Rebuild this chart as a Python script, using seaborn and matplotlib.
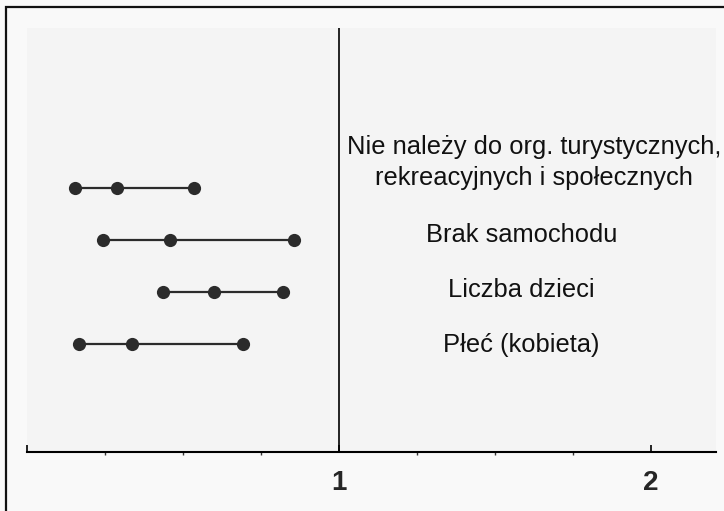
import numpy as np
import pandas as pd
import matplotlib
matplotlib.use('Agg')
import matplotlib.pyplot as plt
from matplotlib.patches import Rectangle
from matplotlib.ticker import MultipleLocator, FixedLocator
import seaborn as sns

# ===============================
# DATA (odds ratio: lower CI, estimate, upper CI)
# ===============================
labels = [
    'Nie należy do org. turystycznych,\nrekreacyjnych i społecznych',
    'Brak samochodu',
    'Liczba dzieci',
    'Płeć (kobieta)',
]
ci_low = [0.154, 0.243, 0.436, 0.167]
estimate = [0.289, 0.459, 0.600, 0.336]
ci_high = [0.535, 0.857, 0.822, 0.692]
major_ticks = [0, 1, 2]
tick_labels = ['', '1', '2']

rows = list(range(len(labels)))
df = pd.DataFrame({
    'row': rows * 3,
    'label': labels * 3,
    'value': ci_low + estimate + ci_high,
})

sns.set_style('white')
plt.rcParams['font.family'] = ['Liberation Sans', 'DejaVu Sans']

fig = plt.figure(figsize=(7.24, 5.11), dpi=100, facecolor='#f9f9f9')
ax = fig.add_axes([27 / 724, 59 / 511, 689 / 724, 424 / 511])
ax.set_facecolor('#f4f4f4')

sns.lineplot(
    data=df, x='value', y='row', units='label', estimator=None,
    color='#2b2b2b', linewidth=1.6, marker='o', markersize=9.5,
    markeredgewidth=0, ax=ax, legend=False
)

ax.axvline(1, color='black', linewidth=1.2, zorder=1)

# labels to the right of the reference line
for i, lab in enumerate(labels):
    xpos = 1.626 if '\n' in lab else 1.586
    yoff = [-0.06, 1.04, 2.10, 3.15][i]
    ax.text(xpos, yoff, lab, ha='center', va='baseline',
            fontsize=18.4, color='#111111', linespacing=1.38)

ax.set_xlim(0, 2.21)
ax.set_ylim(5.08, -3.08)
ax.set_xlabel('')
ax.set_ylabel('')
ax.set_yticks([])

ax.xaxis.set_major_locator(FixedLocator(major_ticks))
ax.set_xticklabels(tick_labels, fontsize=20, fontweight='bold')
ax.xaxis.set_minor_locator(MultipleLocator(0.25))
ax.tick_params(axis='x', which='major', direction='in', length=5,
               width=1.2, color='black', pad=13, bottom=True)
ax.tick_params(axis='x', which='minor', direction='out', length=2.5,
               width=1.0, color='#333333', bottom=True)

for side in ['top', 'right', 'left']:
    ax.spines[side].set_visible(False)
ax.spines['bottom'].set_color('black')
ax.spines['bottom'].set_linewidth(1.5)

# outer frame (only left and top edges fall inside the image)
fig.patches.append(Rectangle(
    (6 / 724, -20 / 511), 1.1, (511 - 7 + 20) / 511,
    transform=fig.transFigure, fill=False, edgecolor='#111111',
    linewidth=1.6, clip_on=False
))

plt.savefig('out.png', dpi=100, facecolor=fig.get_facecolor())
plt.close()
